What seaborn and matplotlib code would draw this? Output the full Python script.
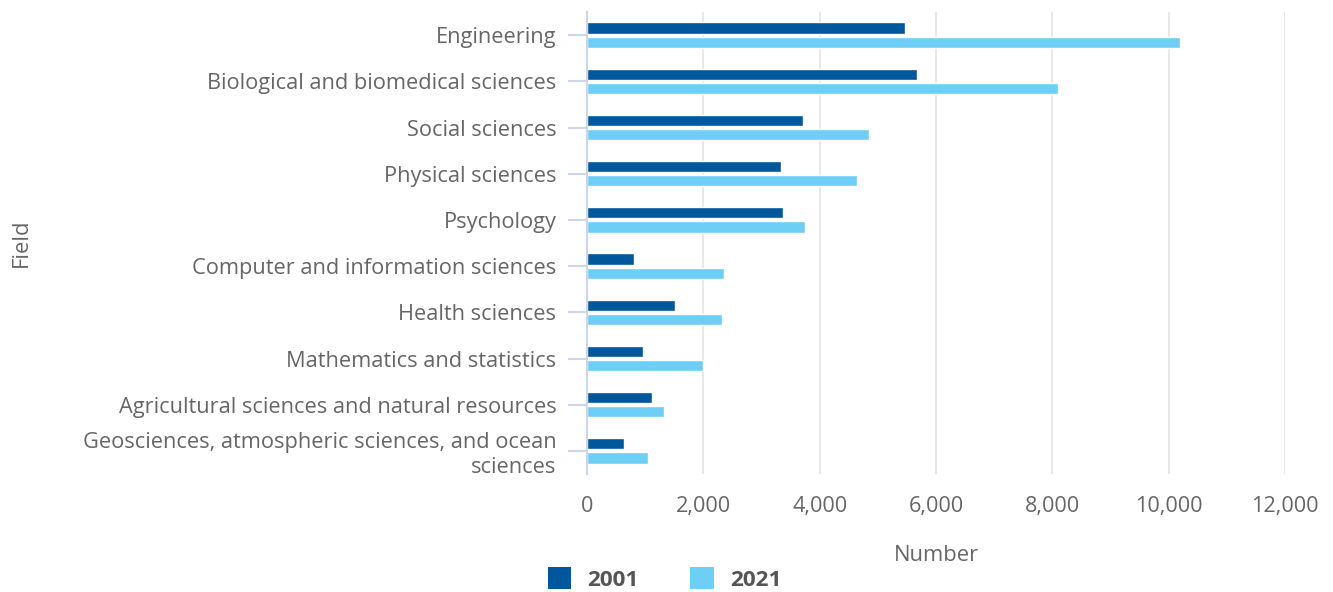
import pandas as pd
import matplotlib
matplotlib.use('Agg')
import matplotlib.pyplot as plt
from matplotlib.patches import Rectangle
import seaborn as sns

# Doctorates by field, 2001 vs 2021
fields = [
    'Engineering',
    'Biological and biomedical sciences',
    'Social sciences',
    'Physical sciences',
    'Psychology',
    'Computer and information sciences',
    'Health sciences',
    'Mathematics and statistics',
    'Agricultural sciences and natural resources',
    'Geosciences, atmospheric sciences, and ocean\nsciences',
]
values_2001 = [5470, 5670, 3720, 3340, 3370, 800, 1520, 970, 1110, 630]
values_2021 = [10200, 8100, 4850, 4640, 3750, 2350, 2320, 2000, 1320, 1050]
years = ['2001', '2021']
colors = ['#00579b', '#6dcff6']
x_ticks = [0, 2000, 4000, 6000, 8000, 10000, 12000]

df = pd.DataFrame({
    'Field': fields * 2,
    'Number': values_2001 + values_2021,
    'Year': [years[0]] * len(fields) + [years[1]] * len(fields),
})

sns.set_style('white')
plt.rcParams['font.family'] = ['Open Sans', 'DejaVu Sans']

fig = plt.figure(figsize=(13.33, 5.92), dpi=100)
ax = fig.add_axes([0.4404, 0.1993, 0.5236, 0.7804])

sns.barplot(data=df, x='Number', y='Field', hue='Year', hue_order=years,
            palette=colors, orient='h', width=0.62, gap=0.22,
            saturation=1, legend=False, ax=ax)

ax.set_xlim(0, 12000)
ax.set_xticks(x_ticks)
ax.set_xticklabels([f'{t:,}' for t in x_ticks])
ax.xaxis.grid(True, color='#e6e6e6', linewidth=1.3)
ax.set_axisbelow(True)

for side in ['top', 'right', 'bottom']:
    ax.spines[side].set_visible(False)
ax.spines['left'].set_color('#ccd6eb')
ax.spines['left'].set_linewidth(1.5)
ax.spines['left'].set_zorder(5)

ax.tick_params(axis='x', length=0, pad=16, labelsize=15.6, labelcolor='#666666')
ax.tick_params(axis='y', left=True, length=14, width=1.5, color='#ccd6eb', pad=8,
               labelsize=15.7, labelcolor='#666666')
for lab in ax.get_yticklabels():
    lab.set_linespacing(1.25)

ax.set_xlabel('Number', fontsize=15.8, color='#666666', labelpad=20)
ax.set_ylabel('Field', fontsize=15.8, color='#666666')
ax.yaxis.set_label_coords(-0.795, 0.5)

# Legend below the chart
handles = [Rectangle((0, 0), 1, 1, facecolor=c, edgecolor='none') for c in colors]
leg = fig.legend(handles, years, loc='center', bbox_to_anchor=(0.4985, 0.022),
                 ncol=2, frameon=False, fontsize=16.2, handlelength=1.05,
                 handleheight=1.1, handletextpad=0.7, columnspacing=2.3)
for t in leg.get_texts():
    t.set_fontweight('bold')
    t.set_color('#555555')

plt.savefig('out.png', dpi=100)
